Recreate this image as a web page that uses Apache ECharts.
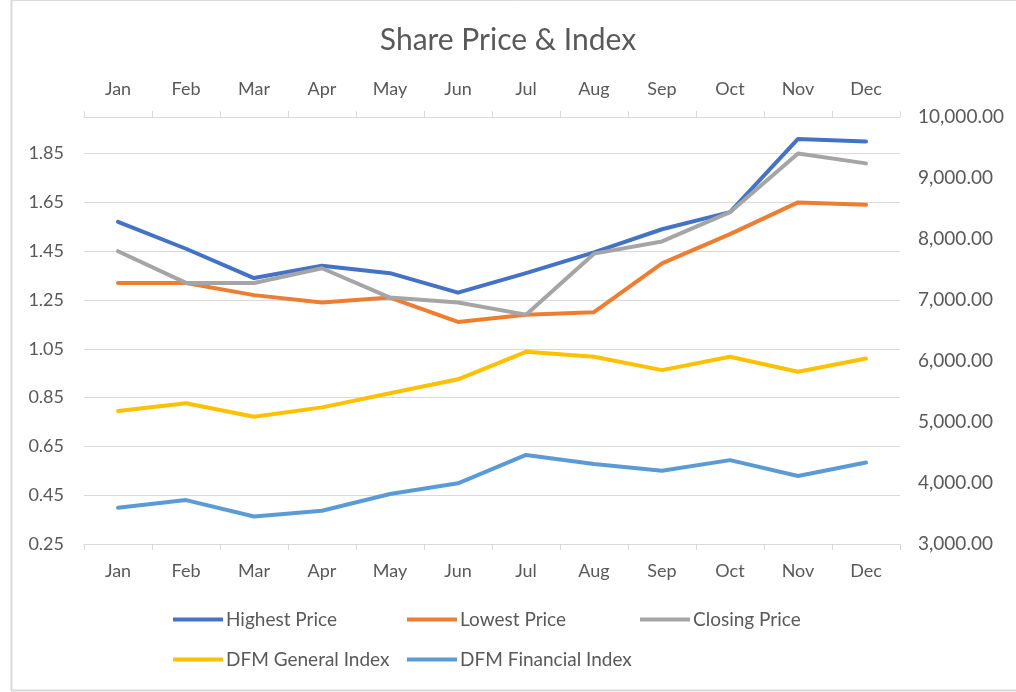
<!DOCTYPE html>
<html>
<head>
<meta charset="utf-8">
<title>Share Price & Index</title>
<script src="https://cdn.jsdelivr.net/npm/echarts@6/dist/echarts.min.js"></script>
<style>
    html, body { margin: 0; padding: 0; background: #fff; }
    #chart { width: 1016px; height: 692px; }
</style>
</head>
<body>
<div id="chart"></div>
<script>
// months on both x axes
var months = ['Jan', 'Feb', 'Mar', 'Apr', 'May', 'Jun', 'Jul', 'Aug', 'Sep', 'Oct', 'Nov', 'Dec'];

// share prices (left axis)
var highestPrice = [1.57, 1.46, 1.34, 1.39, 1.36, 1.28, 1.36, 1.445, 1.54, 1.61, 1.91, 1.90];
var lowestPrice  = [1.32, 1.32, 1.27, 1.24, 1.26, 1.16, 1.19, 1.20, 1.40, 1.52, 1.65, 1.64];
var closingPrice = [1.45, 1.32, 1.32, 1.38, 1.26, 1.24, 1.19, 1.44, 1.49, 1.61, 1.85, 1.81];

// indexes (right axis)
var generalIndex   = [5180, 5306, 5087, 5240, 5470, 5700, 6150, 6070, 5850, 6070, 5825, 6040];
var financialIndex = [3595, 3720, 3450, 3545, 3820, 3995, 4460, 4310, 4200, 4375, 4115, 4335];

var txt = '#595959';
var font = 'Lato, "Open Sans", sans-serif';
var gridLine = '#d9d9d9';

var chart = echarts.init(document.getElementById('chart'));

function line(name, data, color, yIdx) {
    return {
        name: name,
        type: 'line',
        yAxisIndex: yIdx,
        data: data,
        symbol: 'none',
        smooth: false,
        lineStyle: { color: color, width: 4, cap: 'round', join: 'round' },
        itemStyle: { color: color }
    };
}

function legendAt(name, left, top) {
    return {
        data: [name],
        left: left,
        top: top,
        icon: 'rect',
        itemWidth: 50,
        itemHeight: 4,
        padding: 0,
        textStyle: { color: txt, fontFamily: font, fontSize: 19, padding: [0, 0, 0, -2] }
    };
}

var xAxisBase = {
    type: 'category',
    data: months,
    boundaryGap: true,
    axisLine: { show: true, lineStyle: { color: gridLine, width: 1 } },
    axisTick: { show: true, length: 6, lineStyle: { color: gridLine } },
    splitLine: { show: false }
};

var option = {
    animation: false,
    backgroundColor: '#fff',
    title: {
        text: 'Share Price & Index',
        left: 'center',
        top: 20,
        textStyle: { color: txt, fontFamily: font, fontSize: 30, fontWeight: 'normal' }
    },
    grid: { left: 84, right: 116, top: 117, bottom: 148 },
    legend: [
        legendAt('Highest Price', 173, 610),
        legendAt('Lowest Price', 407, 610),
        legendAt('Closing Price', 640, 610),
        legendAt('DFM General Index', 173, 650),
        legendAt('DFM Financial Index', 407, 650)
    ],
    xAxis: [
        echarts.util.merge({
            position: 'bottom',
            axisLabel: { color: txt, fontFamily: font, fontSize: 18, margin: 18 }
        }, xAxisBase, true),
        echarts.util.merge({
            position: 'top',
            axisLabel: { color: txt, fontFamily: font, fontSize: 18, margin: 19 }
        }, xAxisBase, true)
    ],
    yAxis: [
        {
            type: 'value',
            position: 'left',
            min: 0.25,
            max: 2.0,
            interval: 0.2,
            axisLine: { show: false },
            axisTick: { show: false },
            splitLine: { show: true, lineStyle: { color: gridLine, width: 1 } },
            axisLabel: {
                color: txt, fontFamily: font, fontSize: 18, margin: 20,
                formatter: function (v) { return v > 1.99 ? '' : v.toFixed(2); }
            }
        },
        {
            type: 'value',
            position: 'right',
            min: 3000,
            max: 10000,
            interval: 1000,
            axisLine: { show: false },
            axisTick: { show: false },
            splitLine: { show: false },
            axisLabel: {
                color: txt, fontFamily: font, fontSize: 19, margin: 18,
                formatter: function (v) {
                    return v.toLocaleString('en-US', { minimumFractionDigits: 2, maximumFractionDigits: 2 });
                }
            }
        }
    ],
    series: [
        line('Highest Price', highestPrice, '#4472C4', 0),
        line('Lowest Price', lowestPrice, '#ED7D31', 0),
        line('Closing Price', closingPrice, '#A5A5A5', 0),
        line('DFM General Index', generalIndex, '#FFC000', 1),
        line('DFM Financial Index', financialIndex, '#5B9BD5', 1)
    ],
    graphic: [
        // chart area frame (left, bottom and top edges)
        { type: 'line', shape: { x1: 11.5, y1: 0, x2: 11.5, y2: 690 }, style: { stroke: gridLine, lineWidth: 2 } },
        { type: 'line', shape: { x1: 11, y1: 690.5, x2: 1016, y2: 690.5 }, style: { stroke: gridLine, lineWidth: 2 } },
        { type: 'line', shape: { x1: 11, y1: 0.5, x2: 1016, y2: 0.5 }, style: { stroke: gridLine, lineWidth: 1 } }
    ]
};

chart.setOption(option);

window.addEventListener('resize', function () {
    chart.resize();
});
</script>
</body>
</html>
